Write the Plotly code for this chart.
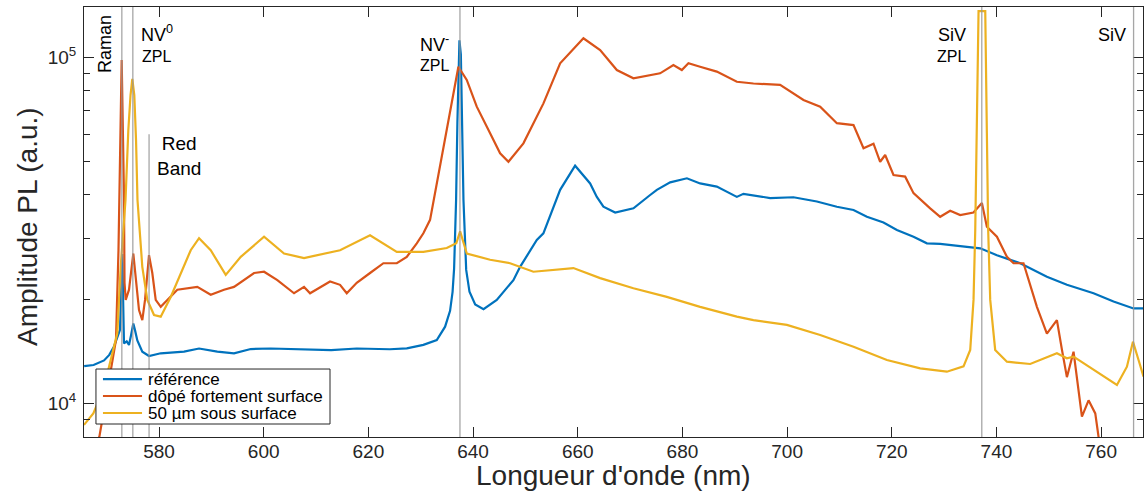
import plotly.graph_objects as go

# ---------------- data ----------------
ref_nm = [565.7, 567.5, 569.5, 570.5, 571.4, 572.55, 572.97, 573.18, 573.31, 573.83, 574.27, 574.65,
          575.09, 575.4, 575.86, 576.81, 578.09, 580.33, 584.78, 587.65, 591.14, 594.33, 597.52,
          601.35, 607.71, 612.9, 617.78, 624.1, 627.34, 630.51, 633.07, 634.66, 635.61, 636.09,
          636.38, 636.76, 637.01, 637.28, 637.40, 637.67, 637.92, 638.17, 638.69, 639.32, 640.41,
          642.0, 644.53, 647.71, 648.99, 652.18, 653.44, 656.0, 656.64, 659.5, 662.37, 663.65,
          664.91, 667.15, 670.65, 673.84, 675.12, 677.66, 680.86, 683.38, 686.57, 690.4, 691.66,
          696.77, 701.22, 705.69, 709.51, 712.69, 715.25, 718.42, 720.98, 724.15, 726.71, 729.25,
          733.71, 736.9, 740.09, 744.54, 749.64, 753.46, 758.55, 762.37, 766.19, 768.04]
ref_counts = [12800, 12900, 13300, 13800, 14600, 16300, 27000, 16300, 14900, 15100, 14750, 15700,
              17000, 16300, 15200, 14100, 13700, 13950, 14100, 14400, 14100, 13950, 14350,
              14400, 14350, 14250, 14400, 14330, 14420, 14750, 15240, 16650, 18500, 21000,
              24500, 38700, 65000, 102000, 112000, 102000, 65000, 38700, 24300, 21000, 19300,
              18700, 19900, 22700, 24800, 29650, 31000, 39500, 41400, 48600, 43200, 39500,
              37000, 35600, 36600, 40000, 41400, 43500, 44700, 43200, 42300, 39500, 40300,
              39200, 39400, 38300, 37000, 36200, 34600, 33300, 31700, 30300, 29000, 28900,
              28350, 28050, 26800, 25400, 23200, 22000, 20800, 19700, 18800, 18800]

dope_nm = [567.5, 568.6, 570.83, 571.78, 572.26, 572.42, 572.87, 573.31, 573.41, 573.64, 574.27,
           575.09, 575.61, 576.18, 576.81, 577.33, 578.09, 578.72, 579.37, 580.33, 581.59, 583.5,
           587.32, 589.88, 592.42, 594.33, 598.16, 600.07, 602.61, 605.8, 607.71, 608.86, 612.68,
           614.59, 615.87, 617.78, 620.32, 622.87, 625.43, 627.34, 629.25, 630.51, 631.79, 633.7,
           635.61, 637.2, 638.8, 640.71, 643.26, 645.17, 646.76, 649.62, 653.45, 656.64, 661.09,
           664.28, 667.47, 670.64, 675.74, 678.28, 679.89, 681.15, 683.38, 686.57, 690.4, 693.57,
           698.67, 703.13, 706.32, 709.51, 712.69, 714.6, 716.51, 717.78, 718.74, 720.33, 722.56,
           724.15, 727.34, 729.25, 731.16, 733.07, 735.61, 737.22, 738.17, 740.09, 742.0, 743.26,
           745.17, 747.73, 749.64, 751.55, 752.51, 753.46, 754.73, 756.33, 757.6, 758.88, 759.51,
           761.0]
dope_counts = [6800, 8000, 12560, 15240, 27700, 39500, 98200, 39500, 22300, 19900, 21300,
               27100, 22700, 18600, 17400, 19900, 26800, 23800, 19900, 19000, 19900, 21300,
               21700, 20600, 21300, 21700, 23800, 24000, 22700, 20800, 21700, 20800, 22500,
               22000, 20800, 22300, 23800, 25400, 25400, 26500, 29000, 31000, 33900, 48300,
               70400, 93900, 86000, 72000, 60300, 52800, 49900, 56400, 73600, 96100, 113500,
               105000, 91900, 87000, 89900, 95000, 91900, 96100, 93900, 90900, 85000, 84000,
               83200, 75300, 72000, 64500, 63700, 54600, 56300, 49900, 52200, 45700, 45200,
               40500, 36600, 34600, 36000, 35000, 35600, 37900, 32400, 30300, 26500, 25400,
               25400, 19000, 15900, 17400, 14300, 11900, 14100, 9150, 10200, 9350, 8000,
               6800]

sub_nm = [565.67, 567.45, 569.36, 571.27, 572.03, 572.68, 573.6, 574.14, 574.56, 574.9, 575.28,
          575.61, 575.89, 576.81, 577.77, 579.05, 580.33, 582.24, 584.15, 586.06, 587.65, 589.88,
          592.75, 595.62, 600.07, 603.89, 607.71, 614.59, 620.32, 622.87, 625.43, 630.51, 634.98,
          636.8, 637.53, 638.81, 643.26, 647.08, 651.53, 659.18, 664.28, 670.64, 677.02, 683.38,
          690.4, 693.57, 699.96, 706.32, 712.69, 719.07, 725.43, 730.53, 733.71, 734.99, 735.62,
          735.95, 736.27, 736.58, 737.2, 737.86, 738.17, 738.42, 738.81, 739.76, 742.0, 746.45,
          751.55, 753.46, 754.73, 757.29, 763.02, 764.93, 766.08, 767.15, 768.1]
sub_counts = [8660, 9350, 10930, 14260, 15930, 24800, 38700, 61650, 77800, 86650, 77800,
              57700, 38700, 24800, 19900, 18000, 17800, 20300, 23800, 27700, 30000, 27700,
              23500, 26500, 30300, 27100, 26300, 27700, 30600, 29000, 27400, 27400, 28100,
              29000, 31400, 27100, 26000, 25400, 24000, 24600, 23000, 21500, 20300, 19000,
              17800, 17400, 16850, 15750, 14570, 13340, 12620, 12340, 12790, 14260, 19900,
              31700, 60300, 136000, 136000, 136000, 60300, 31700, 19900, 14260, 13190, 12990,
              13950, 13490, 13640, 12890, 11300, 12760, 15070, 13340, 11940]

series_names = ["référence", "dôpé fortement surface", "50 µm sous surface"]
series_colors = ["#0072BD", "#D95319", "#EDB120"]

# marker lines (nm)
full_lines_nm = [572.9, 575.0, 637.5, 737.2, 766.2]
red_band_nm = 578.1

x_ticks = [580, 600, 620, 640, 660, 680, 700, 720, 740, 760]
y_major = [1e4, 1e5]
y_major_text = ["10<sup>4</sup>", "10<sup>5</sup>"]
y_minor = [9000, 20000, 30000, 40000, 50000, 60000, 70000, 80000, 90000]

# ---------------- figure ----------------
FONT = "Liberation Sans, Arial, Helvetica, sans-serif"
AX = "#262626"
GRAY = "rgba(150,150,150,0.85)"

fig = go.Figure()
for xs, ys, name, col in zip([ref_nm, dope_nm, sub_nm], [ref_counts, dope_counts, sub_counts],
                             series_names, series_colors):
    fig.add_trace(go.Scatter(x=xs, y=ys, mode="lines", name=name, showlegend=False,
                             line=dict(color=col, width=2.2)))

shapes = []
for v in full_lines_nm:
    shapes.append(dict(type="line", xref="x", yref="paper", x0=v, x1=v, y0=0, y1=1,
                       line=dict(color=GRAY, width=1.3), layer="above"))
shapes.append(dict(type="line", xref="x", yref="paper", x0=red_band_nm, x1=red_band_nm,
                   y0=0, y1=0.704, line=dict(color=GRAY, width=1.3), layer="above"))

ann = []
def txt(x, y, s, size, angle=0, color="black", xanchor="center"):
    ann.append(dict(xref="paper", yref="paper", x=x, y=y, text=s, showarrow=False,
                    font=dict(family=FONT, size=size, color=color), textangle=angle,
                    xanchor=xanchor, yanchor="middle"))

txt(0.0198, 0.914, "Raman", 18, -90)
txt(0.0689, 0.938, "NV<sup>0</sup>", 18)
txt(0.0689, 0.886, "ZPL", 16)
txt(0.0897, 0.653, "Red<br>Band", 19)
txt(0.3314, 0.914, "NV<sup>-</sup>", 18)
txt(0.3314, 0.863, "ZPL", 16)
txt(0.8196, 0.935, "SiV", 18)
txt(0.8196, 0.886, "ZPL", 16)
txt(0.9707, 0.935, "SiV", 18)

# axis titles
txt(0.5, -0.0884, "Longueur d'onde (nm)", 28, color=AX)
txt(-0.0529, 0.4907, "Amplitude PL (a.u.)", 28, angle=-90, color=AX)

# legend box (drawn above the curves)
lx0, lx1, ly0, ly1 = 0.0113, 0.2323, 0.0302, 0.1581
shapes.append(dict(type="rect", xref="paper", yref="paper", x0=lx0, x1=lx1, y0=ly0, y1=ly1,
                   fillcolor="white", line=dict(color=AX, width=1), layer="above"))
row_y = [0.1345, 0.0953, 0.0558]
for name, col, yy in zip(series_names, series_colors, row_y):
    shapes.append(dict(type="line", xref="paper", yref="paper", x0=0.0179, x1=0.0548,
                       y0=yy, y1=yy, line=dict(color=col, width=2.2), layer="above"))
    txt(0.0585, yy, name, 17, xanchor="left")

fig.update_layout(
    width=1144, height=495,
    margin=dict(l=84, r=1, t=7, b=58, autoexpand=False),
    paper_bgcolor="white", plot_bgcolor="white",
    font=dict(family=FONT, color=AX),
    shapes=shapes, annotations=ann,
    showlegend=False,
)
fig.update_xaxes(range=[565.67, 768.0], tickvals=x_ticks, ticks="inside", ticklen=10,
                 tickcolor=AX, showline=True, linecolor=AX, linewidth=1, mirror="ticks",
                 showgrid=False, zeroline=False, automargin=False, ticklabelstandoff=-3,
                 tickfont=dict(size=19, color=AX, family=FONT))
fig.update_yaxes(type="log", range=[3.9026, 5.1454], tickvals=y_major, ticktext=y_major_text,
                 ticks="inside", ticklen=10, tickcolor=AX, showline=True, linecolor=AX,
                 linewidth=1, mirror="ticks", showgrid=False, zeroline=False, automargin=False,
                 ticklabelstandoff=3,
                 minor=dict(tickvals=y_minor, ticks="inside", ticklen=6, tickcolor=AX,
                            showgrid=False),
                 tickfont=dict(size=19, color=AX, family=FONT))

fig.write_html("out.html", config={"displayModeBar": False},
               post_script="document.body.style.margin='0px';document.body.style.overflow='hidden';")
